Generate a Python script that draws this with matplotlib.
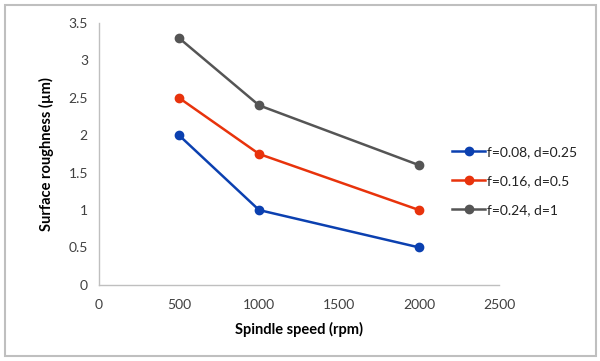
import matplotlib
matplotlib.use("Agg")
import matplotlib.pyplot as plt
from matplotlib.patches import Rectangle

speeds = [500, 1000, 2000]
series_labels = ["f=0.08, d=0.25", "f=0.16, d=0.5", "f=0.24, d=1"]
ra_low = [2.0, 1.0, 0.5]
ra_mid = [2.5, 1.75, 1.0]
ra_high = [3.3, 2.4, 1.6]
colors = ["#0B40B0", "#E8330C", "#555555"]
xticks = [0, 500, 1000, 1500, 2000, 2500]
yticks = [0, 0.5, 1, 1.5, 2, 2.5, 3, 3.5]

plt.rcParams['font.family'] = ['Lato', 'DejaVu Sans']

fig = plt.figure(figsize=(6.0, 3.61), dpi=100)
ax = fig.add_axes([0.165, 0.211, 0.667, 0.725])

for vals, lab, c in zip([ra_low, ra_mid, ra_high], series_labels, colors):
    ax.plot(speeds, vals, color=c, lw=1.8, marker='o', ms=6, label=lab)

ax.set_xlim(0, 2500)
ax.set_ylim(0, 3.5)
ax.set_xticks(xticks)
ax.set_yticks(yticks)
ax.set_yticklabels([f"{v:g}" for v in yticks])
ax.tick_params(axis='x', length=0, labelsize=10, colors="#404040", pad=10)
ax.tick_params(axis='y', length=0, labelsize=10, colors="#404040", pad=8)
for s in ['top', 'right']:
    ax.spines[s].set_visible(False)
for s in ['left', 'bottom']:
    ax.spines[s].set_color("#BFBFBF")
    ax.spines[s].set_linewidth(1.0)

ax.set_xlabel("Spindle speed (rpm)", fontsize=10.5, fontweight='bold', color="#000000", labelpad=8)
ax.set_ylabel("Surface roughness (µm)", fontsize=10.5, fontweight='bold', color="#000000", labelpad=10)

leg = fig.legend(loc='center left', bbox_to_anchor=(452 / 600, 1 - 181 / 361),
                 bbox_transform=fig.transFigure, frameon=False, borderaxespad=0, borderpad=0,
                 fontsize=10, handlelength=2.4, handletextpad=0.15, labelspacing=1.2)
for t in leg.get_texts():
    t.set_color("#202020")

fig.patches.append(Rectangle((0.008, 0.015), 0.985, 0.972, transform=fig.transFigure,
                             fill=False, edgecolor="#BFBFBF", lw=1.5))

fig.savefig("out.png", dpi=100)
